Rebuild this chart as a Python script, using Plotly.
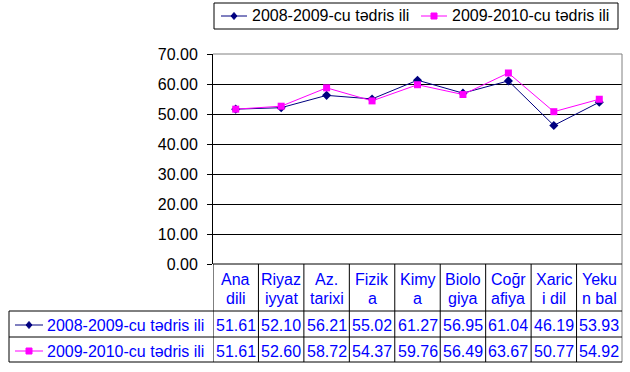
import plotly.graph_objects as go

categories = ["Ana dili", "Riyaziyyat", "Az. tarixi", "Fizika", "Kimya",
              "Biologiya", "Coğrafiya", "Xarici dil", "Yekun bal"]
header_top = ["Ana", "Riyaz", "Az.", "Fizik", "Kimy", "Biolo", "Coğr", "Xaric", "Yeku"]
header_bottom = ["dili", "iyyat", "tarixi", "a", "a", "giya", "afiya", "i dil", "n bal"]
series_names = ["2008-2009-cu tədris ili", "2009-2010-cu tədris ili"]
s2008 = [51.61, 52.10, 56.21, 55.02, 61.27, 56.95, 61.04, 46.19, 53.93]
s2009 = [51.61, 52.60, 58.72, 54.37, 59.76, 56.49, 63.67, 50.77, 54.92]
y_ticks = [0, 10, 20, 30, 40, 50, 60, 70]

W, H = 630, 372
FONT = "Arial, Liberation Sans, sans-serif"
NAVY = "#000080"
MAG = "#FF00FF"
BLUE = "#0000FF"

def px(x):
    return x / W

def py(y):
    return (H - y) / H

X0, X1 = 213, 622
Y_TOP, Y_BOT = 54, 264
ROW1, ROW2, ROW3 = 311, 337, 362
LEFT = 9

fig = go.Figure()
fig.add_trace(go.Scatter(
    x=categories, y=s2008, name=series_names[0], mode="lines+markers",
    line=dict(color=NAVY, width=1),
    marker=dict(symbol="diamond", size=7, color=NAVY)))
fig.add_trace(go.Scatter(
    x=categories, y=s2009, name=series_names[1], mode="lines+markers",
    line=dict(color=MAG, width=1),
    marker=dict(symbol="square", size=7, color=MAG)))

shapes = []
shapes.append(dict(type="line", xref="paper", yref="paper", x0=px(X0), x1=px(X1),
                   y0=py(Y_TOP), y1=py(Y_TOP), line=dict(color="#808080", width=1)))
shapes.append(dict(type="line", xref="paper", yref="paper", x0=px(X1), x1=px(X1),
                   y0=py(Y_TOP), y1=py(ROW3), line=dict(color="#808080", width=1)))
shapes.append(dict(type="line", xref="paper", yref="paper", x0=px(X0), x1=px(X1),
                   y0=py(Y_BOT), y1=py(Y_BOT), line=dict(color="black", width=1)))
for yy in (ROW1, ROW2, ROW3):
    shapes.append(dict(type="line", xref="paper", yref="paper", x0=px(LEFT), x1=px(X1),
                       y0=py(yy), y1=py(yy), line=dict(color="black", width=1)))
for i in range(len(categories)):
    shapes.append(dict(type="line", xref="x", yref="paper", x0=i - 0.5, x1=i - 0.5,
                       y0=py(Y_BOT), y1=py(ROW3), line=dict(color="black", width=1)))
shapes.append(dict(type="line", xref="paper", yref="paper", x0=px(LEFT), x1=px(LEFT),
                   y0=py(ROW1), y1=py(ROW3), line=dict(color="black", width=1)))

def key(x0, x1, yc, color, symbol):
    out = [dict(type="line", xref="paper", yref="paper", x0=px(x0), x1=px(x1),
                y0=py(yc), y1=py(yc), line=dict(color=color, width=1))]
    cx = (x0 + x1) / 2
    if symbol == "diamond":
        path = "M {},{} L {},{} L {},{} L {},{} Z".format(
            px(cx), py(yc - 3.5), px(cx + 3), py(yc), px(cx), py(yc + 3.5), px(cx - 3), py(yc))
        out.append(dict(type="path", xref="paper", yref="paper", path=path,
                        fillcolor=color, line=dict(color=color, width=1)))
    else:
        out.append(dict(type="rect", xref="paper", yref="paper",
                        x0=px(cx - 3), x1=px(cx + 3), y0=py(yc + 3), y1=py(yc - 3),
                        fillcolor=color, line=dict(color=color, width=1)))
    return out

# top legend (box + keys)
LEG_Y = 16
shapes.append(dict(type="rect", xref="paper", yref="paper", x0=px(214), x1=px(618),
                   y0=py(29), y1=py(3), line=dict(color="black", width=1),
                   fillcolor="rgba(0,0,0,0)"))
shapes += key(221, 247, LEG_Y, NAVY, "diamond")
shapes += key(421, 447, LEG_Y, MAG, "square")

# table row keys
R1C, R2C = 325, 351
shapes += key(15, 43, R1C, NAVY, "diamond")
shapes += key(15, 43, R2C, MAG, "square")

annotations = []
for name, xs in zip(series_names, (252, 452)):
    annotations.append(dict(x=px(xs), xref="paper", y=py(LEG_Y), yref="paper", text=name,
                            showarrow=False, xanchor="left", yanchor="middle",
                            xshift=-2, font=dict(family=FONT, size=16, color="black")))
for cat, t, b in zip(categories, header_top, header_bottom):
    annotations.append(dict(x=cat, xref="x", y=py(279), yref="paper", text=t,
                            showarrow=False, xanchor="center", yanchor="middle",
                            font=dict(family=FONT, size=16, color=BLUE)))
    annotations.append(dict(x=cat, xref="x", y=py(298), yref="paper", text=b,
                            showarrow=False, xanchor="center", yanchor="middle",
                            font=dict(family=FONT, size=16, color=BLUE)))
for vals, yc in ((s2008, R1C), (s2009, R2C)):
    for cat, v in zip(categories, vals):
        annotations.append(dict(x=cat, xref="x", y=py(yc), yref="paper",
                                text="{:.2f}".format(v), showarrow=False,
                                xanchor="center", yanchor="middle",
                                font=dict(family=FONT, size=16, color=BLUE)))
for name, yc in zip(series_names, (R1C, R2C)):
    annotations.append(dict(x=px(45), xref="paper", y=py(yc), yref="paper", text=name,
                            showarrow=False, xanchor="left", yanchor="middle",
                            font=dict(family=FONT, size=16, color=BLUE)))

fig.update_layout(
    width=W, height=H, margin=dict(l=0, r=0, t=0, b=0, autoexpand=False),
    paper_bgcolor="white", plot_bgcolor="white",
    font=dict(family=FONT, size=16, color="black"),
    showlegend=False,
    xaxis=dict(domain=[px(X0), px(X1)], range=[-0.5, len(categories) - 0.5],
               type="category", showticklabels=False, showgrid=False, zeroline=False,
               showline=False, ticks="", automargin=False),
    yaxis=dict(domain=[py(Y_BOT), py(Y_TOP)], range=[0, 70], tickvals=y_ticks,
               tickformat=".2f", showgrid=True, gridcolor="black", gridwidth=1,
               showline=True, linecolor="black", linewidth=1, ticks="outside",
               ticklen=5, tickcolor="black", zeroline=False, automargin=False,
               ticklabelstandoff=6,
               tickfont=dict(family=FONT, size=16, color="black")),
    shapes=shapes, annotations=annotations,
)
fig.write_html("out.html", config={"displayModeBar": False},
               post_script="document.body.style.margin='0';document.body.style.overflow='hidden';")
